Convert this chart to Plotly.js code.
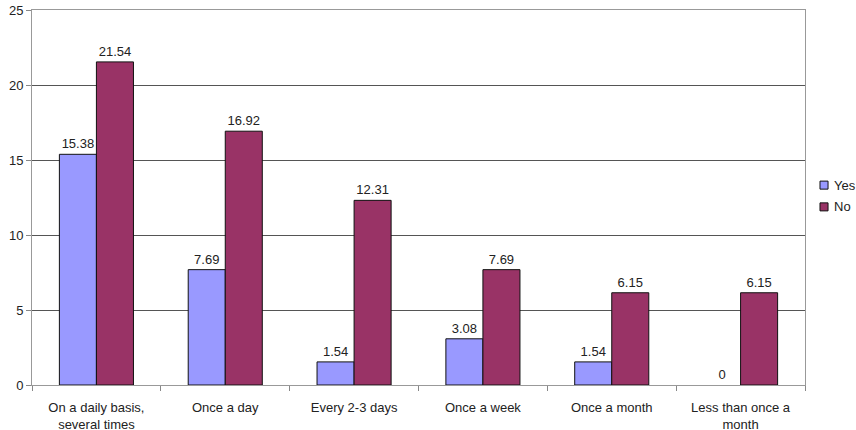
<!DOCTYPE html>
<html>
<head>
<meta charset="utf-8">
<script src="https://cdn.plot.ly/plotly-3.0.1.min.js"></script>
<style>
  html, body { margin: 0; padding: 0; background: #fff; }
  #chart { width: 856px; height: 430px; }
</style>
</head>
<body>
<div id="chart"></div>
<script>
// Frequency categories
const categories = [
  "On a daily basis,<br>several times",
  "Once a day",
  "Every 2-3 days",
  "Once a week",
  "Once a month",
  "Less than once a<br>month"
];
// Percentages per answer group
const yesValues = [15.38, 7.69, 1.54, 3.08, 1.54, 0];
const noValues  = [21.54, 16.92, 12.31, 7.69, 6.15, 6.15];
const seriesNames = ["Yes", "No"];
const seriesColors = ["#9999FF", "#993366"];
const yTicks = [0, 5, 10, 15, 20, 25];

const font = { family: "Liberation Sans, Arial, sans-serif", size: 13, color: "#222" };

function barTrace(name, values, color) {
  return {
    type: "bar",
    name: name,
    x: categories,
    y: values,
    text: values.map(v => String(v)),
    textposition: "outside",
    cliponaxis: false,
    textfont: font,
    // no outline on empty bars so a zero value leaves no stroke on the axis
    marker: { color: color, line: { color: "#111", width: values.map(v => (v === 0 ? 0 : 1)) } },
    hoverinfo: "x+y+name"
  };
}

const data = [
  barTrace(seriesNames[0], yesValues, seriesColors[0]),
  barTrace(seriesNames[1], noValues, seriesColors[1])
];

// Compact key to the right of the plot: small swatch followed by its name
const keyShapes = [];
const keyLabels = [];
const keyRows = [0.533, 0.475];
seriesNames.forEach((name, i) => {
  const yc = keyRows[i];
  keyShapes.push({
    type: "rect", xref: "paper", yref: "paper",
    x0: 1.0194, x1: 1.0298, y0: yc - 0.0107, y1: yc + 0.0107,
    fillcolor: seriesColors[i], line: { color: "#111", width: 1 }
  });
  keyLabels.push({
    xref: "paper", yref: "paper", x: 1.0350, y: yc,
    xanchor: "left", yanchor: "middle", showarrow: false,
    text: name, font: font
  });
});

const layout = {
  width: 856,
  height: 430,
  margin: { l: 32, r: 51, t: 10, b: 45, autoexpand: false },
  paper_bgcolor: "#fff",
  plot_bgcolor: "#fff",
  font: font,
  barmode: "group",
  bargap: 0.425,
  bargroupgap: 0,
  showlegend: false,
  shapes: keyShapes,
  annotations: keyLabels,
  xaxis: {
    type: "category",
    tickson: "boundaries",
    ticks: "outside",
    ticklen: 5,
    tickcolor: "#888",
    ticklabelstandoff: 10,
    showgrid: false,
    showline: true,
    linecolor: "#999",
    linewidth: 1,
    mirror: true,
    tickfont: font,
    fixedrange: true
  },
  yaxis: {
    range: [0, 25],
    tickvals: yTicks,
    ticks: "outside",
    ticklen: 5,
    tickcolor: "#888",
    showgrid: true,
    gridcolor: "#555",
    gridwidth: 1,
    zeroline: false,
    showline: true,
    linecolor: "#999",
    linewidth: 1,
    mirror: true,
    tickfont: font,
    fixedrange: true
  }
};

Plotly.newPlot("chart", data, layout, { displayModeBar: false, staticPlot: true });
</script>
</body>
</html>
